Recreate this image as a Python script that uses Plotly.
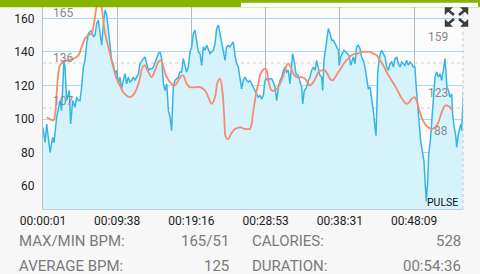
import plotly.graph_objects as go

# ---- data ----
pulse_t = [1, 17, 30, 56, 76, 87, 107, 120, 133, 146, 164, 172, 185, 206, 216, 232, 250, 263, 276, 289,
           302, 315, 328, 341, 354, 367, 380, 393, 406, 419, 432, 445, 458, 471, 484, 497, 509, 522, 535, 548,
           561, 574, 587, 600, 613, 626, 639, 652, 665, 678, 691, 704, 717, 730, 743, 756, 769, 782, 795, 808,
           821, 834, 847, 860, 873, 886, 899, 912, 925, 938, 951, 964, 977, 990, 1002, 1015, 1028, 1041, 1054, 1067,
           1080, 1093, 1106, 1119, 1132, 1145, 1158, 1171, 1184, 1197, 1210, 1223, 1236, 1249, 1262, 1275, 1288, 1301, 1314, 1327,
           1340, 1353, 1366, 1379, 1392, 1405, 1418, 1430, 1443, 1456, 1469, 1482, 1495, 1508, 1521, 1534, 1547, 1560, 1573, 1586,
           1599, 1612, 1625, 1638, 1651, 1664, 1677, 1690, 1703, 1716, 1729, 1742, 1755, 1768, 1781, 1794, 1807, 1820, 1833, 1846,
           1859, 1872, 1885, 1897, 1910, 1923, 1936, 1944, 1957, 1970, 1988, 2001, 2014, 2022, 2035, 2053, 2066, 2079, 2092, 2105,
           2118, 2131, 2144, 2157, 2170, 2178, 2188, 2198, 2209, 2222, 2235, 2248, 2261, 2274, 2287, 2300, 2307, 2318, 2331, 2344,
           2357, 2370, 2383, 2396, 2406, 2416, 2429, 2442, 2455, 2468, 2481, 2494, 2507, 2520, 2533, 2546, 2559, 2572, 2585, 2593,
           2601, 2606, 2616, 2626, 2637, 2650, 2663, 2676, 2689, 2702, 2715, 2728, 2741, 2754, 2767, 2780, 2793, 2805, 2818, 2831,
           2844, 2857, 2870, 2883, 2896, 2904, 2917, 2930, 2940, 2953, 2966, 2977, 2984, 2995, 3003, 3016, 3026, 3039, 3052, 3065,
           3078, 3091, 3104, 3117, 3130, 3138, 3145, 3156, 3169, 3182, 3189, 3202, 3215, 3221, 3233, 3246, 3254, 3259, 3270, 3276]
pulse_bpm = [95, 86, 97, 80, 89, 86, 101, 107, 111, 105, 135, 131, 111, 117, 97, 111, 107, 113, 111, 111,
             119, 131, 135, 145, 151, 152, 153, 149, 150, 157, 159, 151, 144, 157, 165, 162, 153, 141, 135, 133,
             127, 129, 121, 125, 118, 123, 127, 121, 125, 122, 123, 125, 123, 125, 127, 133, 135, 136, 137, 133,
             129, 130, 130, 131, 134, 137, 139, 140, 136, 121, 117, 121, 105, 101, 93, 119, 123, 124, 125, 128,
             128, 136, 132, 128, 131, 140, 143, 151, 153, 147, 140, 139, 132, 143, 141, 144, 141, 139, 140, 141,
             145, 154, 156, 151, 145, 139, 135, 143, 144, 143, 145, 146, 138, 133, 131, 123, 118, 123, 125, 123,
             122, 123, 121, 118, 117, 114, 113, 114, 112, 114, 123, 124, 123, 124, 124, 122, 119, 111, 119, 123,
             125, 129, 131, 128, 129, 121, 131, 139, 134, 127, 126, 122, 119, 109, 117, 119, 123, 125, 129, 131,
             129, 135, 131, 126, 125, 117, 135, 141, 147, 154, 151, 147, 147, 145, 143, 141, 132, 137, 139, 141,
             140, 139, 138, 132, 135, 137, 133, 143, 144, 142, 137, 135, 131, 125, 118, 119, 113, 105, 95, 90,
             111, 127, 135, 139, 141, 139, 137, 131, 129, 133, 134, 131, 136, 137, 133, 131, 134, 133, 132, 135,
             132, 134, 133, 131, 131, 121, 107, 95, 87, 81, 75, 60, 51, 62, 79, 87, 99, 111, 125, 128,
             125, 127, 123, 129, 136, 127, 119, 117, 113, 115, 103, 95, 89, 83, 91, 95, 97, 93, 111, 119]

avg_t = [29, 55, 81, 94, 107, 120, 133, 159, 198, 237, 276, 302, 328, 354, 380, 393, 406, 419, 439, 458,
         476, 496, 522, 548, 574, 600, 626, 652, 673, 699, 725, 751, 777, 795, 813, 821, 847, 873, 899, 919,
         938, 964, 1002, 1028, 1054, 1080, 1093, 1119, 1145, 1184, 1223, 1262, 1288, 1314, 1340, 1360, 1379, 1397, 1412, 1425,
         1443, 1464, 1495, 1534, 1573, 1599, 1612, 1625, 1638, 1651, 1664, 1677, 1690, 1711, 1729, 1742, 1755, 1768, 1781, 1799,
         1820, 1846, 1872, 1897, 1910, 1929, 1949, 1975, 2014, 2040, 2066, 2079, 2105, 2126, 2144, 2170, 2196, 2214, 2235, 2255,
         2276, 2300, 2326, 2351, 2377, 2403, 2429, 2455, 2468, 2507, 2546, 2572, 2598, 2624, 2650, 2676, 2715, 2754, 2780, 2805,
         2831, 2852, 2870, 2891, 2909, 2927, 2948, 2974, 3000, 3026, 3052, 3073, 3091, 3109, 3130, 3150, 3169, 3187]
avg_bpm = [101, 100, 99, 102, 115, 127, 132, 134, 135, 136, 138, 143, 148, 150, 151, 155, 161, 167, 170, 166,
           155, 147, 139, 131, 124, 120, 116, 114, 113, 114, 117, 123, 131, 132, 129, 128, 125, 129, 134, 135,
           131, 125, 121, 120, 123, 126, 126, 121, 119, 119, 119, 117, 113, 109, 113, 122, 124, 117, 101, 89,
           88, 91, 94, 95, 94, 94, 94, 97, 105, 111, 117, 121, 126, 129, 130, 129, 123, 119, 117, 117,
           118, 121, 126, 132, 133, 131, 127, 125, 125, 124, 121, 120, 122, 125, 128, 129, 129, 127, 124, 123,
           125, 128, 131, 134, 136, 138, 139, 139, 140, 140, 140, 139, 138, 135, 132, 128, 123, 118, 114, 111,
           109, 110, 112, 113, 111, 106, 101, 97, 95, 94, 95, 97, 101, 105, 108, 108, 107, 105]

x_tick_vals = [1, 578, 1156, 1733, 2311, 2889]
x_tick_text = ["00:00:01", "00:09:38", "00:19:16", "00:28:53", "00:38:31", "00:48:09"]
y_tick_vals = [60, 80, 100, 120, 140, 160]
left_scale_labels = ["165", "136", "107"]
right_scale_labels = ["159", "123", "88"]
stat_labels = ["MAX/MIN BPM:", "AVERAGE BPM:", "CALORIES:", "DURATION:"]
stat_values = ["165/51", "125", "528", "00:54:36"]
series_name = "PULSE"

# ---- layout geometry (pixels) ----
W, H = 480, 274
L, R, T, B = 43, 463, 0, 209


def px(x):
    return (x - L) / (R - L)


def py(y):
    return (B - y) / (B - T)


fig = go.Figure()
fig.add_trace(go.Scatter(x=pulse_t, y=pulse_bpm, mode="lines", fill="tozeroy",
                         fillcolor="#d6f3fc", line=dict(color="#37b4e6", width=1.5),
                         hoverinfo="skip", showlegend=False))
fig.add_trace(go.Scatter(x=avg_t, y=avg_bpm, mode="lines",
                         line=dict(color="#f58c6c", width=1.8, shape="spline", smoothing=1.0),
                         hoverinfo="skip", showlegend=False))

shapes = []
# secondary dotted guide lines
for yy in [63, 108]:
    shapes.append(dict(type="line", xref="paper", yref="paper", x0=0, x1=1, y0=py(yy), y1=py(yy),
                       line=dict(color="#d0d0d0", width=1, dash="dot"), layer="below"))
# right dotted border
shapes.append(dict(type="line", xref="paper", yref="paper", x0=1, x1=1, y0=0, y1=1,
                   line=dict(color="#c8c8c8", width=1, dash="dot")))
# top progress bar
shapes.append(dict(type="rect", xref="paper", yref="paper", x0=px(0), x1=px(480), y0=py(7.3), y1=py(0),
                   fillcolor="#88b300", line=dict(width=0), layer="above"))
shapes.append(dict(type="rect", xref="paper", yref="paper", x0=px(241), x1=px(478), y0=py(7.0), y1=py(2.7),
                   fillcolor="#ffffff", line=dict(width=0), layer="above"))

# fullscreen icon
cx, cy = 456.5, 17.0
for sx, sy in [(-1, -1), (1, -1), (-1, 1), (1, 1)]:
    tip = (cx + sx * 11.5, cy + sy * 9.5)
    a = (tip[0] - sx * 7.5, tip[1])
    b = (tip[0], tip[1] - sy * 7.0)
    path = "M {} {} L {} {} L {} {} Z".format(px(tip[0]), py(tip[1]), px(a[0]), py(a[1]), px(b[0]), py(b[1]))
    shapes.append(dict(type="path", xref="paper", yref="paper", path=path,
                       fillcolor="#3c3c3c", line=dict(color="#3c3c3c", width=0.5), layer="above"))
    s0 = (tip[0] - sx * 3.5, tip[1] - sy * 3.0)
    s1 = (cx + sx * 2.5, cy + sy * 2.0)
    shapes.append(dict(type="line", xref="paper", yref="paper", x0=px(s0[0]), y0=py(s0[1]),
                       x1=px(s1[0]), y1=py(s1[1]), line=dict(color="#3c3c3c", width=2.6), layer="above"))

annotations = []
for lab, yy in zip(left_scale_labels, [12.5, 57.5, 101]):
    annotations.append(dict(text=lab, xref="paper", yref="paper", x=px(50.5), y=py(yy),
                            xanchor="left", yanchor="middle", showarrow=False,
                            font=dict(family="Roboto", size=12, color="#8a8a8a")))
for lab, yy in zip(right_scale_labels, [37, 93, 131]):
    annotations.append(dict(text=lab, xref="paper", yref="paper", x=px(449.5), y=py(yy),
                            xanchor="right", yanchor="middle", showarrow=False,
                            font=dict(family="Roboto", size=12, color="#8a8a8a")))
annotations.append(dict(text=series_name, xref="paper", yref="paper", x=px(460), y=py(202),
                        xanchor="right", yanchor="middle", showarrow=False,
                        font=dict(family="Roboto", size=10.5, color="#111111")))
stat_pos = [(17, 231, 241), (17, 231, 265.5), (250, 463, 241), (250, 463, 265.5)]
for lab, val, (xl, xr, yy) in zip(stat_labels, stat_values, stat_pos):
    annotations.append(dict(text=lab, xref="paper", yref="paper", x=px(xl), y=py(yy),
                            xanchor="left", yanchor="middle", showarrow=False,
                            font=dict(family="Roboto", size=15, color="#7a7a7a")))
    annotations.append(dict(text=val, xref="paper", yref="paper", x=px(xr), y=py(yy),
                            xanchor="right", yanchor="middle", showarrow=False,
                            font=dict(family="Roboto", size=15, color="#7a7a7a")))

fig.update_layout(
    width=W, height=H,
    margin=dict(l=L, r=W - R, t=T, b=H - B),
    paper_bgcolor="#f7f7f7", plot_bgcolor="#fbfbfb",
    xaxis=dict(range=[1, 3270], tickvals=x_tick_vals, ticktext=x_tick_text,
               showgrid=True, gridcolor="#a9bcc4", gridwidth=1, zeroline=False,
               showline=True, linecolor="#b5d3dc", linewidth=1,
               ticks="", tickfont=dict(family="Roboto", size=12, color="#222222"), ticklabelstandoff=1),
    yaxis=dict(range=[46.3, 171.0], tickvals=y_tick_vals, showgrid=True, gridcolor="#a2dcf0",
               gridwidth=1.3, zeroline=False, showline=True, linecolor="#b0c0c6", linewidth=1,
               ticks="", tickfont=dict(family="Roboto", size=12, color="#222222"), ticklabelstandoff=5),
    shapes=shapes, annotations=annotations, showlegend=False,
)

fig.write_html("out.html", config={"displayModeBar": False})
